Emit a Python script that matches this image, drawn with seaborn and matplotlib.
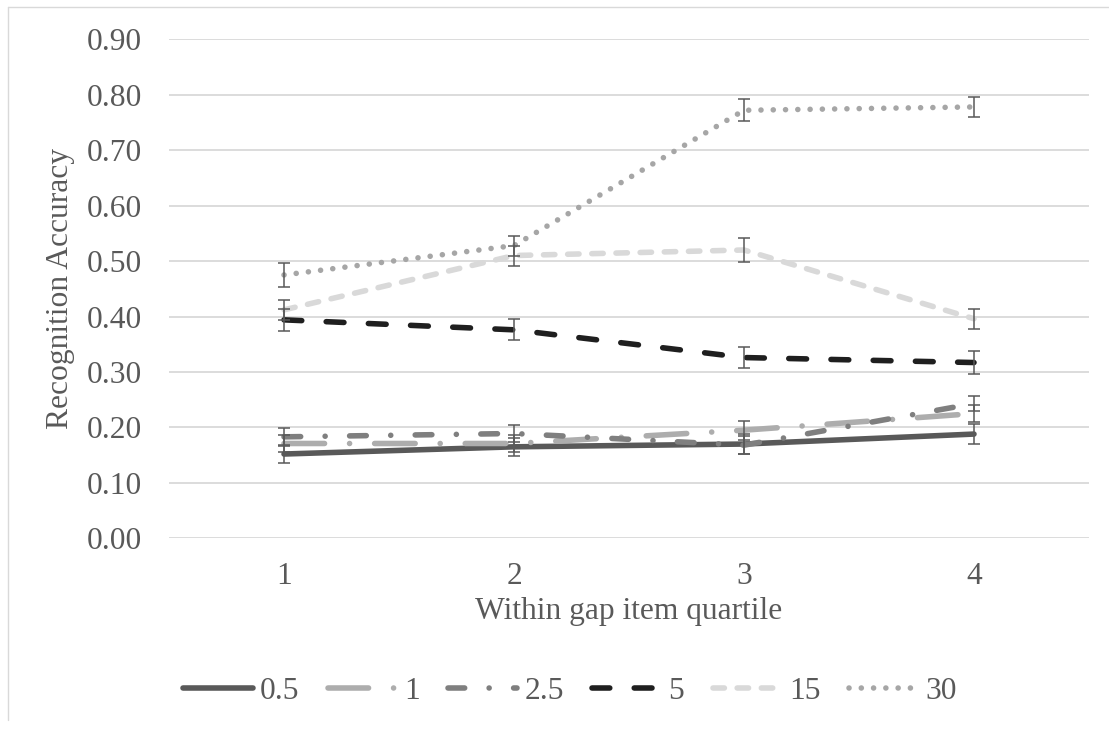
import numpy as np
import pandas as pd
import matplotlib
matplotlib.use("Agg")
import matplotlib.pyplot as plt
from matplotlib.lines import Line2D
import seaborn as sns

# Data: recognition accuracy by within-gap item quartile for each gap length
quartiles = [1, 2, 3, 4]
gap_labels = ["0.5", "1", "2.5", "5", "15", "30"]

acc_05 = [0.152, 0.165, 0.170, 0.188]
acc_1 = [0.171, 0.171, 0.195, 0.225]
acc_25 = [0.183, 0.189, 0.168, 0.243]
acc_5 = [0.394, 0.376, 0.326, 0.317]
acc_15 = [0.412, 0.510, 0.520, 0.396]
acc_30 = [0.475, 0.528, 0.772, 0.778]

err_05 = [0.017, 0.016, 0.018, 0.018]
err_1 = [0.016, 0.016, 0.017, 0.015]
err_25 = [0.016, 0.016, 0.016, 0.014]
err_5 = [0.020, 0.019, 0.019, 0.021]
err_15 = [0.018, 0.018, 0.022, 0.018]
err_30 = [0.022, 0.018, 0.020, 0.018]

series = [acc_05, acc_1, acc_25, acc_5, acc_15, acc_30]
errors = [err_05, err_1, err_25, err_5, err_15, err_30]

df = pd.DataFrame({
    "quartile": np.tile(quartiles, len(gap_labels)),
    "accuracy": np.concatenate(series),
    "gap": np.repeat(gap_labels, len(quartiles)),
})

palette = {"0.5": "#595959", "1": "#ADADAD", "2.5": "#7F7F7F",
           "5": "#1F1F1F", "15": "#D9D9D9", "30": "#A6A6A6"}
dashes = {"0.5": "", "1": (7.3, 4.5, 0.01, 4.5), "2.5": (3.0, 4.4, 0.01, 4.4),
          "5": (3.2, 4.4), "15": (2.05, 2.3), "30": (0.01, 2.2)}

sns.set_theme(style="white")
plt.rcParams["font.family"] = ["Liberation Serif", "DejaVu Serif"]
text_color = "#595959"
fs = 22.7
lw = 4.0

W, H = 1109, 733
fig = plt.figure(figsize=(W / 100, H / 100), dpi=100)
ax_left, ax_right, ax_top, ax_bottom = 169, 1089, 39.3, 538.3
ax = fig.add_axes([ax_left / W, 1 - ax_bottom / H,
                   (ax_right - ax_left) / W, (ax_bottom - ax_top) / H])

sns.lineplot(data=df, x="quartile", y="accuracy", hue="gap", style="gap",
             hue_order=gap_labels, style_order=gap_labels,
             palette=palette, dashes=dashes, linewidth=lw,
             legend=False, ax=ax, zorder=3)

series_lines = list(ax.get_lines())
for ln in series_lines:
    ln.set_dash_capstyle("round")
    ln.set_solid_capstyle("round")

for vals, errs in zip(series, errors):
    ax.errorbar(quartiles, vals, yerr=errs, fmt="none", ecolor="#595959",
                elinewidth=1.1, capsize=4.3, capthick=1.1, zorder=4)

ax.set_xlim(0.5, 4.5)
ax.set_ylim(0, 0.9)
ax.set_yticks(np.arange(0, 0.91, 0.1))
ax.set_yticklabels([f"{v:.2f}" for v in np.arange(0, 0.91, 0.1)])
ax.set_xticks(quartiles)
ax.set_xticklabels([str(q) for q in quartiles])
ax.tick_params(axis="both", length=0, labelsize=fs, labelcolor=text_color)
ax.tick_params(axis="y", pad=19.5)
ax.tick_params(axis="x", pad=17)
ax.grid(axis="y", color="#D9D9D9", linewidth=1.3)
ax.grid(axis="x", visible=False)
for sp in ax.spines.values():
    sp.set_visible(False)

ax.set_xlabel("Within gap item quartile", fontsize=fs, color=text_color)
ax.xaxis.label.set_va("center")
ax.xaxis.set_label_coords(0.5, (ax_bottom - 611) / (ax_bottom - ax_top))
ax.set_ylabel("Recognition Accuracy", fontsize=fs, color=text_color)
ax.yaxis.label.set_va("center")
ax.yaxis.set_label_coords((61 - ax_left) / (ax_right - ax_left), 0.5)

handles = []
for lab in gap_labels:
    h = Line2D([], [], color=palette[lab], linewidth=lw)
    if dashes[lab]:
        h.set_dashes(dashes[lab])
    h.set_dash_capstyle("round")
    h.set_solid_capstyle("round")
    handles.append(h)

fig.legend(handles, gap_labels, loc="center", ncol=6, frameon=False,
           bbox_to_anchor=(570 / W, 1 - 691 / H), fontsize=fs,
           labelcolor=text_color, handlelength=2.2, handletextpad=0.22,
           columnspacing=0.9)

# light chart-area border on the top and left
fig.add_artist(Line2D([7.5 / W, 1.0], [1 - 6.5 / H, 1 - 6.5 / H],
                      color="#D9D9D9", linewidth=1.0))
fig.add_artist(Line2D([7.5 / W, 7.5 / W], [1 - 720 / H, 1 - 6.5 / H],
                      color="#D9D9D9", linewidth=1.0))

fig.savefig("out.png", dpi=100, facecolor="white")
